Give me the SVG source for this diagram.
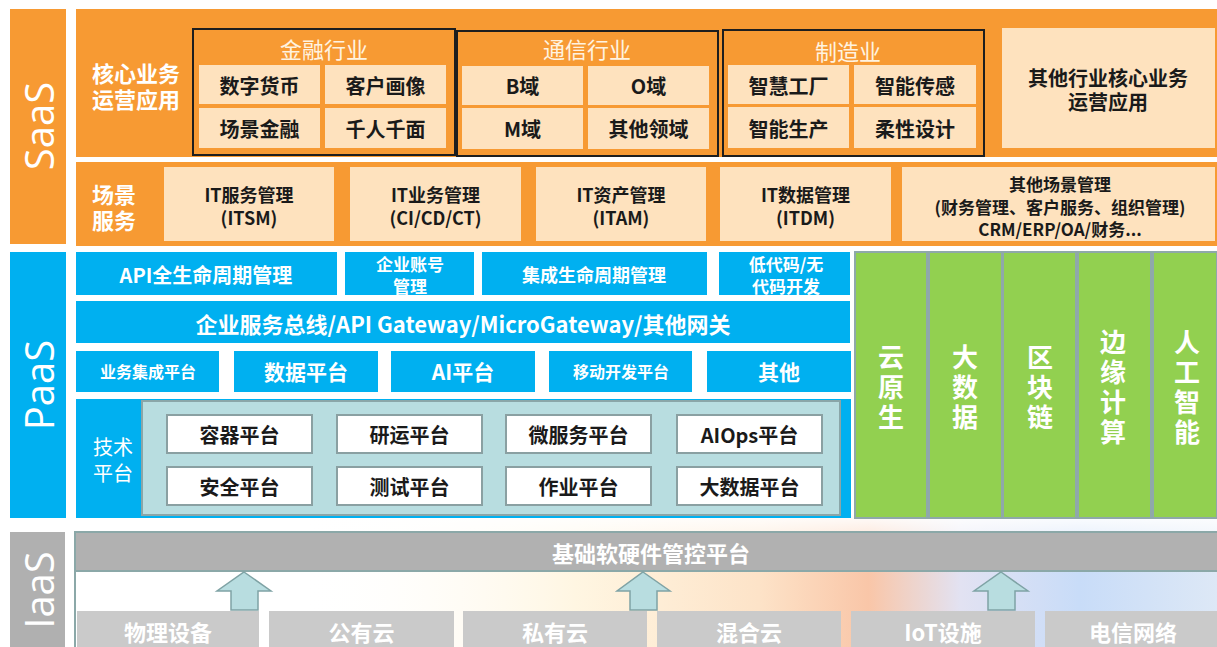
<svg xmlns="http://www.w3.org/2000/svg" width="1217" height="647" viewBox="0 0 1217 647">
  <defs>
    <style>
      .org { fill: #F79A33; }
      .cream { fill: #FEE2BE; }
      .ind { fill: none; stroke: #1E1E1E; stroke-width: 2; }
      .blue { fill: #00B0F0; }
      .green { fill: #92D050; stroke: #8FA8AA; stroke-width: 2; }
      .teal { fill: #B8DDE0; stroke: #8AA6A8; stroke-width: 2; }
      .wbox { fill: #FFFFFF; stroke: #8AA0A2; stroke-width: 2; }
      .gbar { fill: #B1B1B1; stroke: #8BA8A8; stroke-width: 2; }
      .gbox { fill: #CACACA; }
      .arrow { fill: #B8DDE0; stroke: #7FA3A5; stroke-width: 1.5; stroke-linejoin: miter; }
      text { font-family: "Noto Sans CJK SC", "Noto Sans", sans-serif; text-anchor: middle; dominant-baseline: central; }
      .b { font-weight: 700; }
      .w { fill: #FFFFFF; }
      .k { fill: #1A1A1A; }
      .ttl { fill: #FFF3E0; font-size: 22px; font-weight: 400; }
      .cell { fill: #1A1A1A; font-size: 20px; font-weight: 700; }
      .side { font-family: "Open Sans", "Liberation Sans", sans-serif; font-size: 40px; fill: #FFFFFF; font-weight: 400; }
      .vert { fill: #FFFFFF; font-size: 26px; font-weight: 700; writing-mode: vertical-rl; letter-spacing: 4px; }
      .lbl { text-anchor: start; fill: #FFFFFF; font-weight: 700; font-size: 22px; }
    </style>
    <linearGradient id="haze" x1="0" y1="0" x2="1" y2="0">
      <stop offset="0" stop-color="#FFFFFF" stop-opacity="0"/>
      <stop offset="0.3" stop-color="#FFF6E2"/>
      <stop offset="0.5" stop-color="#FDE3C8"/>
      <stop offset="0.62" stop-color="#F9C6A8"/>
      <stop offset="0.72" stop-color="#E2E2F2"/>
      <stop offset="0.85" stop-color="#C8DCF8"/>
      <stop offset="1" stop-color="#DDE8F6"/>
    </linearGradient>
    <linearGradient id="fade" x1="0" y1="0" x2="0" y2="1">
      <stop offset="0" stop-color="#FFFFFF" stop-opacity="1"/>
      <stop offset="1" stop-color="#FFFFFF" stop-opacity="0"/>
    </linearGradient>
  </defs>

  <rect width="1217" height="647" fill="#FFFFFF"/>
  <!-- soft colour wash behind the IaaS layer -->
  <rect x="300" y="515" width="917" height="132" fill="url(#haze)"/>
  <rect x="300" y="512" width="917" height="62" fill="url(#fade)"/>

  <!-- ===== SaaS layer ===== -->
  <g id="saas">
    <rect class="org" x="10" y="9" width="56" height="235"/>
    <text class="side" transform="rotate(-90 38 126)" x="38" y="126">SaaS</text>
    <rect class="org" x="76" y="9" width="1141" height="148"/>
    <rect class="org" x="76" y="162" width="1141" height="84"/>
    <text class="lbl" x="92" y="72">核心业务<tspan x="92" dy="26">运营应用</tspan></text>
    <text class="lbl" x="92" y="193">场景<tspan x="92" dy="26">服务</tspan></text>
  </g>

  <g id="finance">
    <rect class="ind" x="193" y="29" width="262" height="126"/>
    <text class="ttl" x="324" y="48">金融行业</text>
    <rect class="cream" x="199" y="65" width="121" height="39"/>
    <rect class="cream" x="325" y="65" width="121" height="39"/>
    <rect class="cream" x="199" y="108" width="121" height="40"/>
    <rect class="cream" x="325" y="108" width="121" height="40"/>
    <text class="cell" x="259.5" y="85">数字货币</text>
    <text class="cell" x="385.5" y="85">客户画像</text>
    <text class="cell" x="259.5" y="128">场景金融</text>
    <text class="cell" x="385.5" y="128">千人千面</text>
  </g>

  <g id="telecom">
    <rect class="ind" x="457" y="31" width="261" height="125"/>
    <text class="ttl" x="587" y="48">通信行业</text>
    <rect class="cream" x="462" y="66" width="121" height="39"/>
    <rect class="cream" x="588" y="66" width="121" height="39"/>
    <rect class="cream" x="462" y="108" width="121" height="41"/>
    <rect class="cream" x="588" y="108" width="121" height="41"/>
    <text class="cell" x="522.5" y="85">B域</text>
    <text class="cell" x="648.5" y="85">O域</text>
    <text class="cell" x="522.5" y="128">M域</text>
    <text class="cell" x="648.5" y="128">其他领域</text>
  </g>

  <g id="manufacturing">
    <rect class="ind" x="723" y="30" width="261" height="126"/>
    <text class="ttl" x="848" y="50">制造业</text>
    <rect class="cream" x="728" y="65" width="121" height="39"/>
    <rect class="cream" x="854" y="65" width="122" height="39"/>
    <rect class="cream" x="728" y="107" width="121" height="41"/>
    <rect class="cream" x="854" y="107" width="122" height="41"/>
    <text class="cell" x="788.5" y="85">智慧工厂</text>
    <text class="cell" x="915" y="85">智能传感</text>
    <text class="cell" x="788.5" y="128">智能生产</text>
    <text class="cell" x="915" y="128">柔性设计</text>
  </g>

  <g id="other-industry">
    <rect class="cream" x="1002" y="28" width="213" height="120"/>
    <text class="k b" font-size="20" x="1108" y="77">其他行业核心业务<tspan x="1108" dy="24">运营应用</tspan></text>
  </g>

  <g id="scenes">
    <rect class="cream" x="164" y="167" width="170" height="74"/>
    <text class="k b" font-size="18" x="249" y="194">IT服务管理<tspan x="249" dy="23">(ITSM)</tspan></text>
    <rect class="cream" x="350" y="167" width="171" height="74"/>
    <text class="k b" font-size="18" x="435.5" y="194">IT业务管理<tspan x="435.5" dy="23">(CI/CD/CT)</tspan></text>
    <rect class="cream" x="536" y="167" width="170" height="74"/>
    <text class="k b" font-size="18" x="621" y="194">IT资产管理<tspan x="621" dy="23">(ITAM)</tspan></text>
    <rect class="cream" x="720" y="167" width="171" height="74"/>
    <text class="k b" font-size="18" x="805.5" y="194">IT数据管理<tspan x="805.5" dy="23">(ITDM)</tspan></text>
    <rect class="cream" x="902" y="167" width="313" height="74"/>
    <text class="k b" font-size="17" x="1060" y="183">其他场景管理<tspan x="1060" dy="23">(财务管理、客户服务、组织管理)</tspan><tspan x="1060" dy="22">CRM/ERP/OA/财务...</tspan></text>
  </g>

  <!-- ===== PaaS layer ===== -->
  <g id="paas">
    <rect class="blue" x="10" y="252" width="56" height="266"/>
    <text class="side" transform="rotate(-90 38 385)" x="38" y="385">PaaS</text>
  </g>

  <g id="paas-row1">
    <rect class="blue" x="76" y="252" width="261" height="43"/>
    <text class="w b" font-size="20" x="206" y="274">API全生命周期管理</text>
    <rect class="blue" x="345" y="252" width="129" height="43"/>
    <text class="w b" font-size="17" x="410" y="263">企业账号<tspan x="410" dy="22">管理</tspan></text>
    <rect class="blue" x="482" y="252" width="225" height="43"/>
    <text class="w b" font-size="18" x="594" y="274">集成生命周期管理</text>
    <rect class="blue" x="719" y="252" width="131" height="43"/>
    <text class="w b" font-size="17" x="786" y="263">低代码/无<tspan x="786" dy="22">代码开发</tspan></text>
  </g>

  <g id="gateway">
    <rect class="blue" x="76" y="301" width="774" height="42"/>
    <text class="w b" font-size="22" x="463" y="323">企业服务总线/API Gateway/MicroGateway/其他网关</text>
  </g>

  <g id="paas-row3">
    <rect class="blue" x="76" y="351" width="143" height="41"/>
    <text class="w b" font-size="16" x="148" y="371">业务集成平台</text>
    <rect class="blue" x="234" y="351" width="144" height="41"/>
    <text class="w b" font-size="21" x="306" y="371">数据平台</text>
    <rect class="blue" x="391" y="351" width="144" height="41"/>
    <text class="w b" font-size="21" x="463" y="371">AI平台</text>
    <rect class="blue" x="549" y="351" width="143" height="41"/>
    <text class="w b" font-size="16" x="621" y="371">移动开发平台</text>
    <rect class="blue" x="707" y="351" width="144" height="41"/>
    <text class="w b" font-size="21" x="779" y="371">其他</text>
  </g>

  <g id="tech-platform">
    <rect class="blue" x="76" y="399" width="775" height="119"/>
    <text class="w" font-size="20" x="113" y="446">技术<tspan x="113" dy="26">平台</tspan></text>
    <rect class="teal" x="142" y="401" width="698" height="114"/>
    <rect class="wbox" x="167" y="415" width="145" height="38"/>
    <rect class="wbox" x="337" y="415" width="145" height="38"/>
    <rect class="wbox" x="506" y="415" width="145" height="38"/>
    <rect class="wbox" x="677" y="415" width="145" height="38"/>
    <rect class="wbox" x="167" y="467" width="145" height="38"/>
    <rect class="wbox" x="337" y="467" width="145" height="38"/>
    <rect class="wbox" x="506" y="467" width="145" height="38"/>
    <rect class="wbox" x="677" y="467" width="145" height="38"/>
    <text class="cell" font-size="21" x="239.5" y="434">容器平台</text>
    <text class="cell" font-size="21" x="409.5" y="434">研运平台</text>
    <text class="cell" font-size="21" x="578.5" y="434">微服务平台</text>
    <text class="cell" font-size="21" x="749.5" y="434">AIOps平台</text>
    <text class="cell" font-size="21" x="239.5" y="486">安全平台</text>
    <text class="cell" font-size="21" x="409.5" y="486">测试平台</text>
    <text class="cell" font-size="21" x="578.5" y="486">作业平台</text>
    <text class="cell" font-size="19" x="749.5" y="486">大数据平台</text>
  </g>

  <g id="cloud-native">
    <rect class="green" x="855" y="252" width="72" height="266"/>
    <text class="vert" x="891" y="389">云原生</text>
  </g>
  <g id="big-data">
    <rect class="green" x="929" y="252" width="73" height="266"/>
    <text class="vert" x="965" y="389">大数据</text>
  </g>
  <g id="blockchain">
    <rect class="green" x="1003" y="252" width="73" height="266"/>
    <text class="vert" x="1040" y="389">区块链</text>
  </g>
  <g id="edge-computing">
    <rect class="green" x="1078" y="252" width="73" height="266"/>
    <text class="vert" x="1113" y="389">边缘计算</text>
  </g>
  <g id="ai">
    <rect class="green" x="1153" y="252" width="64" height="266"/>
    <text class="vert" x="1187" y="389">人工智能</text>
  </g>

  <!-- ===== IaaS layer ===== -->
  <g id="iaas">
    <rect x="10" y="532" width="55" height="115" fill="#B0B0B0"/>
    <text class="side" transform="rotate(-90 38 590)" x="38" y="590">IaaS</text>
    <rect x="75" y="532" width="1145" height="120" fill="none" stroke="#8BA8A8" stroke-width="2"/>
  </g>

  <g id="control-platform">
    <rect class="gbar" x="75" y="532" width="1145" height="39"/>
    <text class="w b" font-size="22" x="651" y="552">基础软硬件管控平台</text>
  </g>

  <g id="resources">
    <rect class="gbox" x="77" y="611" width="182" height="40"/>
    <text class="w b" font-size="22" x="168" y="631">物理设备</text>
    <rect class="gbox" x="269" y="611" width="185" height="40"/>
    <text class="w b" font-size="22" x="361.5" y="631">公有云</text>
    <rect class="gbox" x="463" y="611" width="184" height="40"/>
    <text class="w b" font-size="22" x="555" y="631">私有云</text>
    <rect class="gbox" x="657" y="611" width="184" height="40"/>
    <text class="w b" font-size="22" x="749" y="631">混合云</text>
    <rect class="gbox" x="851" y="611" width="184" height="40"/>
    <text class="w b" font-size="22" x="943" y="631">IoT设施</text>
    <rect class="gbox" x="1045" y="611" width="174" height="40"/>
    <text class="w b" font-size="22" x="1133" y="631">电信网络</text>
  </g>

  <!-- upward block arrows from resources to the control platform -->
  <g id="connectors">
    <polygon class="arrow" points="244,572 271,591 258,591 258,610 231,610 231,591 217,591"/>
    <polygon class="arrow" points="643,572 670,591 657,591 657,610 630,610 630,591 617,591"/>
    <polygon class="arrow" points="1001,572 1028,591 1015,591 1015,610 988,610 988,591 974,591"/>
  </g>
</svg>
